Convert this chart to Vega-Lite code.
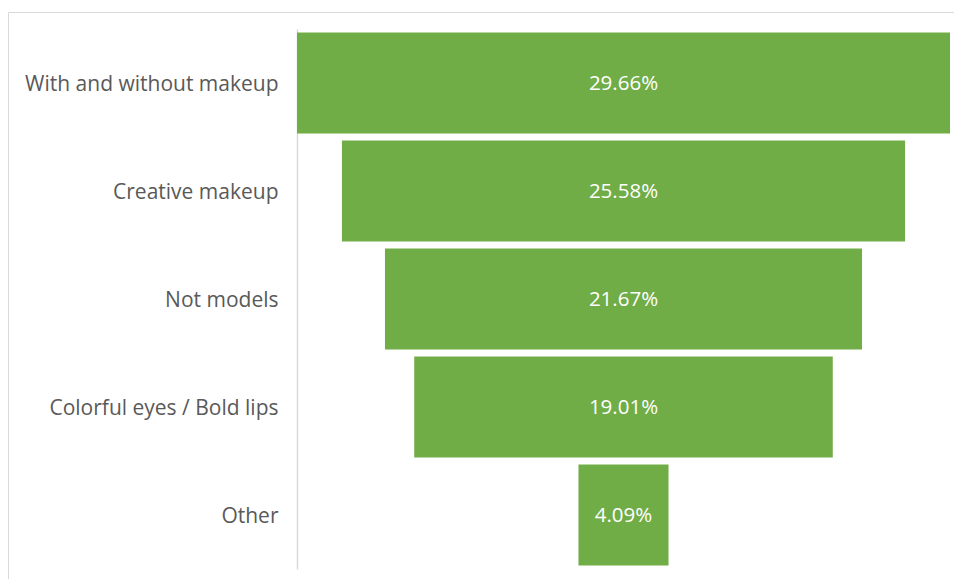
{
  "$schema": "https://vega.github.io/schema/vega-lite/v6.json",
  "width": 946,
  "height": 567,
  "autosize": {"type": "none"},
  "padding": {"left": 8, "top": 12, "right": 0, "bottom": 0},
  "background": "white",
  "config": {"view": {"stroke": null}, "font": "Open Sans"},
  "data": {
    "values": [
      {"cat": "With and without makeup", "v": 0.2966},
      {"cat": "Creative makeup", "v": 0.2558},
      {"cat": "Not models", "v": 0.2167},
      {"cat": "Colorful eyes / Bold lips", "v": 0.1901},
      {"cat": "Other", "v": 0.0409}
    ]
  },
  "layer": [
    {
      "layer": [
        {
          "mark": {"type": "bar", "color": "#70ad47"},
          "encoding": {
            "y": {
              "field": "cat", "type": "nominal", "sort": null,
              "scale": {"range": [17, 557], "paddingInner": 0.065, "paddingOuter": 0.0325},
              "axis": {"title": null, "orient": "left", "offset": -289, "ticks": false, "labelPadding": 19, "labelOffset": 2, "labelFontSize": 21, "labelLimit": 400, "labelColor": "#595959", "labelFont": "Open Sans", "domainColor": "#d9d9d9", "domainWidth": 1.5}
            },
            "x": {
              "field": "v", "type": "quantitative", "stack": "center",
              "scale": {"domain": [0, 0.2966], "range": [289, 942], "nice": false, "zero": false},
              "axis": null
            }
          }
        },
        {
          "mark": {"type": "text", "color": "white", "fontSize": 20.5, "font": "Open Sans", "dy": 1},
          "encoding": {
            "y": {"field": "cat", "type": "nominal", "sort": null},
            "x": {"datum": 0.1483, "type": "quantitative"},
            "text": {"field": "v", "type": "quantitative", "format": ".2%"}
          }
        }
      ]
    },
    {
      "mark": {"type": "point", "opacity": 0},
      "encoding": {
        "x": {"field": "v", "type": "quantitative", "axis": {"orient": "top", "domainColor": "#d9d9d9", "labels": false, "ticks": false, "grid": false, "title": null}},
        "y": {"field": "cat", "type": "nominal", "sort": null, "axis": {"orient": "left", "domainColor": "#d9d9d9", "labels": false, "ticks": false, "title": null}}
      }
    }
  ],
  "resolve": {
    "scale": {"x": "independent", "y": "independent"},
    "axis": {"x": "independent", "y": "independent"}
  }
}
